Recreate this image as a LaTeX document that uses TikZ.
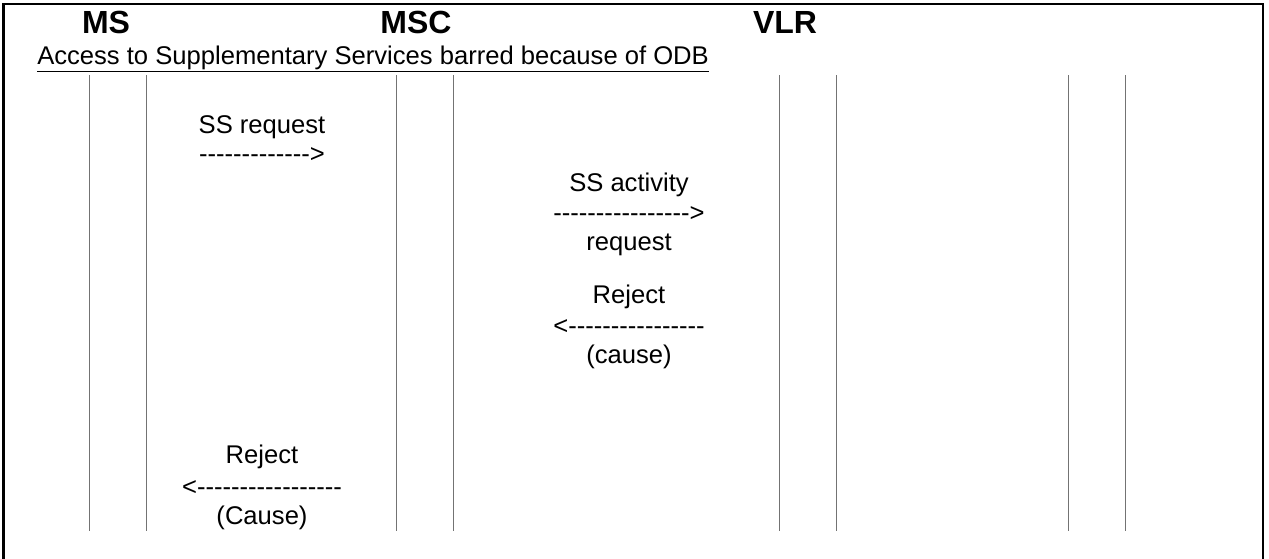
\documentclass[tikz,border=0pt]{standalone}
\usepackage{fontspec}
\setmainfont[Ligatures=TeXOff]{Liberation Sans}
\begin{document}
\begin{tikzpicture}[x=0.75pt,y=-0.75pt,
  lbl/.style={inner sep=0pt,font=\fontsize{19.2}{22}\selectfont},
  hdr/.style={inner sep=0pt,font=\fontsize{24}{27}\selectfont\bfseries},
  life/.style={draw=black!55,line width=0.6pt},
  frame/.style={draw=black,line width=1.6pt}]
\useasboundingbox (0,0) rectangle (1269,558);
% frame (open at the bottom)
\draw[frame] (3.5,560) -- (3.5,4) -- (1263,4) -- (1263,560);
% headers
\node[hdr] (ms) at (106,22) {MS};
\node[hdr] (msc) at (416,22) {MSC};
\node[hdr] (vlr) at (785,22) {VLR};
\node[lbl,anchor=west] (title) at (37,59) {\underline{Access to Supplementary Services barred because of ODB}};
% lifelines
\foreach \x in {89,146,396,453,779,836,1068,1125}
  \draw[life] (\x,75) -- (\x,531);
% messages
\node[lbl] (m1) at (262,127) {SS request};
\node[lbl] (a1) at (262,155) {------------->};
\node[lbl] (m2) at (629,185) {SS activity};
\node[lbl] (a2) at (629,214) {---------------->};
\node[lbl] (m2b) at (629,245) {request};
\node[lbl] (m3) at (629,297) {Reject};
\node[lbl] (a3) at (629,327) {<----------------};
\node[lbl] (m3b) at (629,357) {(cause)};
\node[lbl] (m4) at (262,457) {Reject};
\node[lbl] (a4) at (262,488) {<-----------------};
\node[lbl] (m4b) at (262,518) {(Cause)};
\end{tikzpicture}
\end{document}
